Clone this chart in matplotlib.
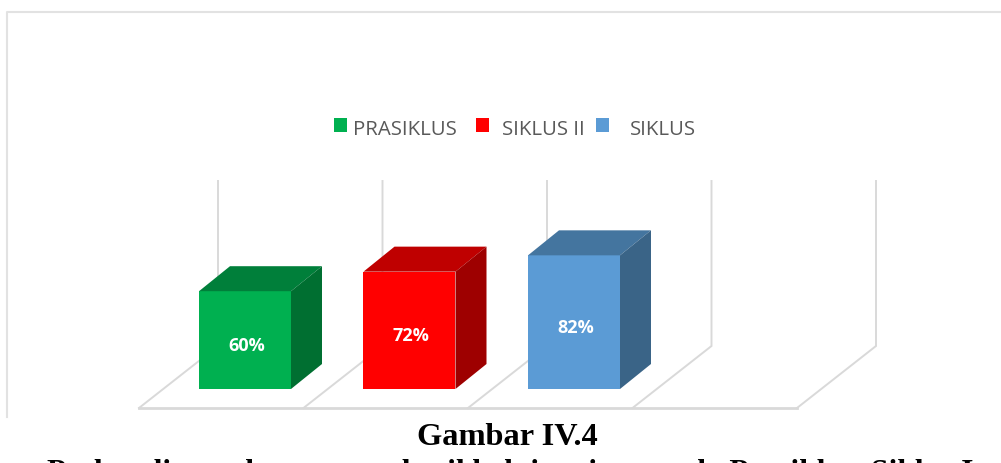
import matplotlib
matplotlib.use('Agg')
import matplotlib.pyplot as plt
from matplotlib.patches import Polygon, Rectangle

categories = ['PRASIKLUS', 'SIKLUS II', 'SIKLUS']
values = [60, 72, 82]
front_colors = ['#00B050', '#FF0000', '#5B9BD5']
top_colors = ['#007F3A', '#BF0000', '#44759F']
side_colors = ['#006F31', '#9E0000', '#3A6487']

W, H = 1001, 463
# pixel scale of the chart: one category step, one value unit
PX_CAT = 164.5
PX_VAL = 1.63
X0 = 245.0
Y0 = 389.0

fig = plt.figure(figsize=(W / 100, H / 100), dpi=100)
ax = fig.add_axes([0, 0, 1, 1])
ax.set_xlim(-X0 / PX_CAT, (W - X0) / PX_CAT)
ax.set_ylim(-(H - Y0) / PX_VAL, Y0 / PX_VAL)
ax.axis('off')

bar_w = 92 / PX_CAT
dx = 31 / PX_CAT
dy = 25 / PX_VAL

# floor and back walls
grid_col = '#D9D9D9'
floor_y = -19 / PX_VAL
back_y = 43 / PX_VAL
wall_top = 208 / PX_VAL
floor_shift = 79 / PX_CAT
for i in range(5):
    xf = i - 106 / PX_CAT
    ax.plot([xf, xf + floor_shift, xf + floor_shift], [floor_y, back_y, wall_top],
            color=grid_col, lw=1.4, solid_joinstyle='miter', zorder=1)
ax.plot([-106 / PX_CAT, 4 - 106 / PX_CAT], [floor_y, floor_y], color=grid_col, lw=2, zorder=1)

# bars
for i, v in enumerate(values):
    l = i - bar_w / 2
    r = i + bar_w / 2
    ax.add_patch(Rectangle((l, 0), bar_w, v, fc=front_colors[i], ec='none', zorder=3))
    ax.add_patch(Polygon([(l, v), (r, v), (r + dx, v + dy), (l + dx, v + dy)],
                         fc=top_colors[i], ec='none', zorder=3))
    ax.add_patch(Polygon([(r, 0), (r + dx, dy), (r + dx, v + dy), (r, v)],
                         fc=side_colors[i], ec='none', zorder=3))
    ax.text(i + 0.01, v / 2 - 3.5, f'{v}%', color='white', fontsize=13, fontweight='bold',
            family='Open Sans', ha='center', va='center', zorder=4)

# chart border, in figure pixels
fig.add_artist(plt.Line2D([6.5 / W, 6.5 / W, 1], [1 - 417 / H, 1 - 12 / H, 1 - 12 / H],
                          color='#E2E2E2', lw=1.5))

# legend
leg_sq = [334, 476, 596]
leg_tx = [353, 502, 630]
for s, t, c, lab in zip(leg_sq, leg_tx, front_colors, categories):
    fig.patches.append(Rectangle((s / W, 1 - 132 / H), 13 / W, 14 / H, fc=c, ec='none',
                                 transform=fig.transFigure))
    fig.text(t / W, 1 - 130 / H, lab, color='#595959', fontsize=14.7, family='Open Sans',
             ha='left', va='center')

# caption below the chart, second line runs off the bottom edge as in the source
fig.text(507 / W, 1 - 445 / H, 'Gambar IV.4', fontsize=23.3, fontweight='bold',
         family='Liberation Serif', ha='center', va='baseline', color='black')
fig.text(510 / W, 1 - 481 / H, 'Perbandingan ketuntasan hasil belajar siswa pada Prasiklus, Siklus I',
         fontsize=22.6, fontweight='bold', family='Liberation Serif', ha='center', va='baseline',
         color='black')

fig.savefig('out.png', dpi=100)
